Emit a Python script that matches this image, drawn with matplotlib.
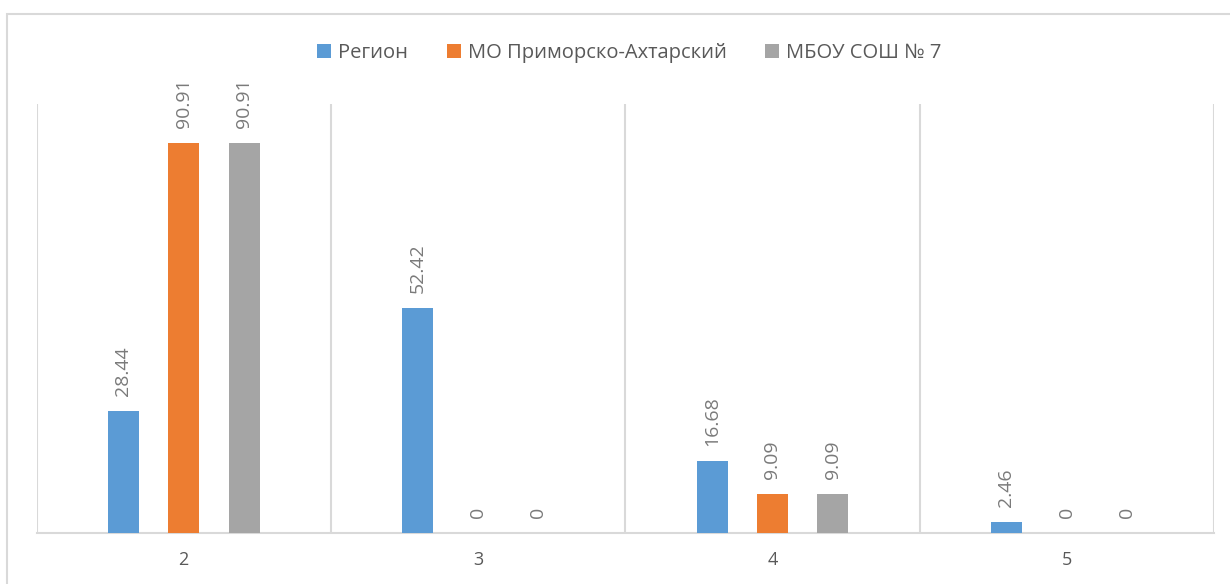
import numpy as np
import matplotlib
matplotlib.use("Agg")
import matplotlib.pyplot as plt
from matplotlib.patches import Rectangle

plt.rcParams['font.family'] = ['Open Sans', 'DejaVu Sans']

# data
categories = ['2', '3', '4', '5']
series_names = ['Регион', 'МО Приморско-Ахтарский', 'МБОУ СОШ № 7']
region = [28.44, 52.42, 16.68, 2.46]
municipality = [90.91, 0, 9.09, 0]
school = [90.91, 0, 9.09, 0]
colors = ['#5b9bd5', '#ed7d31', '#a5a5a5']

grid_color = '#d9d9d9'
text_color = '#595959'
label_color = '#7a7a7a'

fig = plt.figure(figsize=(12.3, 5.84), dpi=100)
ax = fig.add_axes([0.0297, 0.0873, 0.9573, 0.7346])

x = np.arange(len(categories))
width = 0.105
offset = 0.205

for i, (vals, name, col) in enumerate(zip([region, municipality, school], series_names, colors)):
    pos = x + (i - 1) * offset
    ax.bar(pos, vals, width, color=col, label=name, zorder=3)
    for p, v in zip(pos, vals):
        ax.annotate(f'{v:g}', (p, v), xytext=(0, 11), textcoords='offset points',
                    rotation=90, ha='center', va='bottom', fontsize=14, color=label_color)

ax.set_xlim(-0.5, len(categories) - 0.5)
ax.set_ylim(0, 100)

# category separators
for b in np.arange(-0.5, len(categories), 1.0):
    ax.axvline(b, color=grid_color, lw=1.5, zorder=1)

for s in ['top', 'right', 'left']:
    ax.spines[s].set_visible(False)
ax.spines['bottom'].set_color(grid_color)
ax.spines['bottom'].set_linewidth(1.5)

ax.set_yticks([])
ax.set_xticks(x)
ax.set_xticklabels(categories, fontsize=13, color=text_color)
ax.tick_params(axis='x', length=0, pad=13)

ax.legend(loc='center', bbox_to_anchor=(0.5035, 1.118), ncol=3, frameon=False,
          fontsize=14.5, labelcolor=text_color, handlelength=0.7, handleheight=0.7,
          handletextpad=0.35, columnspacing=1.9)

# chart outer border
fig.patches.append(Rectangle((7 / 1230, -0.1), 1.2, (584 - 14) / 584 + 0.1,
                             transform=fig.transFigure, fill=False,
                             edgecolor=grid_color, lw=1.5))

fig.savefig('out.png', dpi=100)
